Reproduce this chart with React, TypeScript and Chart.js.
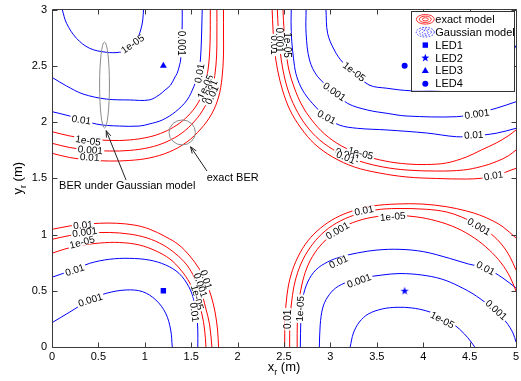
import React, { useEffect, useRef } from "react";
import { Chart, registerables } from "chart.js";

Chart.register(...registerables);

const FONT = '"Liberation Sans", Arial, Helvetica, sans-serif';
const RED = "rgb(255,0,0)";
const BLUE = "rgb(0,0,255)";

const xTickValues = [0, 0.5, 1, 1.5, 2, 2.5, 3, 3.5, 4, 4.5, 5];
const yTickValues = [0, 0.5, 1, 1.5, 2, 2.5, 3];

const ledNames = ["LED1", "LED2", "LED3", "LED4"];
const ledX = [1.2, 3.8, 1.2, 3.8];
const ledY = [0.5, 0.5, 2.5, 2.5];

// Gaussian model (blue) contours
const gTL_1e5 = [[0.11,3],[0.157,2.877],[0.264,2.744],[0.406,2.655],[0.584,2.62],[0.726,2.62],[0.833,2.649],[0.908,2.72],[0.956,2.818],[0.978,2.907],[0.986,3]];
const gTL_1e3 = [[0,2.397],[0.157,2.32],[0.334,2.249],[0.584,2.204],[0.833,2.196],[1.047,2.196],[1.154,2.24],[1.218,2.284],[1.279,2.329],[1.325,2.4],[1.349,2.433],[1.375,2.507],[1.386,2.551],[1.396,2.684],[1.403,2.862],[1.403,3]];
const gTL_1e2 = [[0,2.092],[0.192,2.053],[0.477,1.982],[0.726,1.964],[0.94,1.964],[1.047,1.982],[1.189,2.018],[1.332,2.092],[1.456,2.196],[1.528,2.314],[1.56,2.391],[1.581,2.462],[1.599,2.551],[1.61,2.729],[1.616,2.907],[1.619,3]];
const gBL_1e2 = [[0,0.62],[0.246,0.691],[0.406,0.744],[0.62,0.78],[0.833,0.788],[1.047,0.773],[1.225,0.729],[1.368,0.655],[1.474,0.536],[1.528,0.418],[1.56,0.284],[1.571,0.151],[1.571,0]];
const gBL_1e3 = [[0,0.216],[0.192,0.311],[0.406,0.418],[0.584,0.477],[0.798,0.507],[0.975,0.492],[1.119,0.418],[1.225,0.3],[1.279,0.151],[1.296,0]];
const gTR_1e2 = [[2.578,3],[2.578,2.788],[2.614,2.492],[2.65,2.373],[2.721,2.255],[2.842,2.133],[2.952,2.047],[3.095,1.973],[3.291,1.944],[3.611,1.929],[4.038,1.902],[4.359,1.869],[4.537,1.876],[4.786,1.9],[5,1.944]];
const gTR_1e3 = [[2.738,3],[2.738,2.788],[2.775,2.551],[2.863,2.403],[3.042,2.269],[3.184,2.166],[3.397,2.107],[3.611,2.077],[3.825,2.053],[4.359,2.047],[4.573,2.077],[4.786,2.122],[5,2.18]];
const gTR_1e5 = [[2.952,3],[2.97,2.788],[3.042,2.64],[3.13,2.533],[3.255,2.447],[3.416,2.329],[3.611,2.3],[3.86,2.278],[4.145,2.284],[4.466,2.32],[4.733,2.4],[4.893,2.507],[5,2.68]];
const gBR_1e2 = [[2.676,0],[2.682,0.24],[2.703,0.436],[2.756,0.578],[2.842,0.684],[2.97,0.756],[3.109,0.8],[3.291,0.836],[3.504,0.862],[3.75,0.868],[4.006,0.847],[4.284,0.788],[4.487,0.738],[4.679,0.7],[4.858,0.613],[5,0.524]];
const gBR_1e3 = [[2.881,0],[2.89,0.196],[2.917,0.347],[2.97,0.444],[3.056,0.524],[3.184,0.578],[3.344,0.613],[3.558,0.64],[3.75,0.653],[3.985,0.64],[4.199,0.604],[4.38,0.542],[4.573,0.453],[4.765,0.329],[4.893,0.222],[4.968,0.124],[5,0.044]];
const gBR_1e5 = [[3.213,0],[3.248,0.124],[3.312,0.222],[3.408,0.293],[3.558,0.338],[3.718,0.353],[3.878,0.347],[4.038,0.32],[4.199,0.267],[4.338,0.196],[4.444,0.116],[4.509,0.053],[4.555,0]];

// Exact model (red) contours
const eTL_1e5 = [[0,1.914],[0.192,1.876],[0.406,1.849],[0.62,1.836],[0.833,1.84],[1.047,1.867],[1.207,1.911],[1.346,1.973],[1.464,2.053],[1.56,2.151],[1.624,2.258],[1.667,2.391],[1.693,2.551],[1.704,2.729],[1.706,3]];
const eTL_1e3 = [[0,1.811],[0.192,1.773],[0.406,1.751],[0.62,1.742],[0.833,1.747],[1.047,1.773],[1.229,1.822],[1.4,1.902],[1.538,2.009],[1.645,2.133],[1.715,2.267],[1.755,2.418],[1.774,2.596],[1.777,2.773],[1.777,3]];
const eTL_1e2 = [[0,1.722],[0.192,1.684],[0.406,1.662],[0.62,1.653],[0.833,1.658],[1.047,1.68],[1.261,1.733],[1.453,1.822],[1.603,1.938],[1.72,2.071],[1.795,2.222],[1.832,2.391],[1.848,2.596],[1.848,2.773],[1.848,3]];
const eBL_1e2 = [[0,1.046],[0.192,1.076],[0.331,1.089],[0.513,1.1],[0.694,1.1],[0.887,1.084],[1.047,1.049],[1.225,0.98],[1.368,0.907],[1.485,0.809],[1.581,0.702],[1.656,0.587],[1.715,0.453],[1.757,0.311],[1.784,0.151],[1.795,0]];
const eBL_1e3 = [[0,0.957],[0.192,0.991],[0.406,1.013],[0.62,1.018],[0.833,1.004],[1.026,0.969],[1.197,0.907],[1.335,0.827],[1.453,0.729],[1.538,0.613],[1.608,0.489],[1.656,0.347],[1.699,0.196],[1.723,0]];
const eBL_1e5 = [[0,0.833],[0.139,0.871],[0.299,0.902],[0.513,0.924],[0.726,0.929],[0.94,0.907],[1.122,0.853],[1.271,0.782],[1.389,0.684],[1.485,0.569],[1.56,0.436],[1.613,0.302],[1.645,0.151],[1.659,0]];
const eTR_1e2 = [[2.372,3],[2.382,2.818],[2.398,2.64],[2.431,2.462],[2.484,2.284],[2.564,2.107],[2.682,1.947],[2.831,1.804],[3.024,1.689],[3.259,1.6],[3.526,1.547],[3.825,1.511],[4.145,1.498],[4.466,1.493],[4.626,1.5],[4.786,1.52],[4.893,1.556],[5,1.588]];
const eTR_1e3 = [[2.428,3],[2.439,2.818],[2.457,2.64],[2.489,2.462],[2.543,2.284],[2.623,2.124],[2.735,1.973],[2.885,1.84],[3.077,1.733],[3.312,1.653],[3.568,1.6],[3.825,1.573],[4.145,1.564],[4.431,1.573],[4.626,1.604],[4.786,1.647],[4.915,1.698],[5,1.751]];
const eTR_1e5 = [[2.489,3],[2.5,2.818],[2.521,2.64],[2.553,2.462],[2.612,2.302],[2.692,2.151],[2.799,2.018],[2.938,1.893],[3.12,1.787],[3.344,1.707],[3.59,1.653],[3.825,1.627],[4.038,1.622],[4.252,1.636],[4.466,1.689],[4.626,1.751],[4.786,1.813],[4.915,1.876],[5,1.929]];
const eBR_1e2 = [[2.507,0],[2.511,0.24],[2.532,0.462],[2.575,0.64],[2.65,0.8],[2.756,0.942],[2.895,1.058],[3.056,1.147],[3.237,1.209],[3.451,1.253],[3.718,1.271],[3.985,1.271],[4.252,1.247],[4.466,1.209],[4.608,1.173],[4.754,1.12],[4.861,1.067],[5,0.969]];
const eBR_1e3 = [[2.561,0],[2.564,0.24],[2.585,0.418],[2.618,0.578],[2.682,0.738],[2.778,0.88],[2.906,1.004],[3.066,1.102],[3.259,1.173],[3.483,1.218],[3.718,1.231],[4.038,1.224],[4.252,1.2],[4.412,1.156],[4.591,1.084],[4.733,1.004],[4.85,0.907],[4.936,0.8],[5,0.684]];
const eBR_1e5 = [[2.642,0],[2.644,0.24],[2.66,0.4],[2.692,0.551],[2.746,0.702],[2.831,0.836],[2.949,0.951],[3.098,1.049],[3.291,1.12],[3.504,1.16],[3.718,1.169],[3.932,1.156],[4.145,1.12],[4.359,1.058],[4.551,0.969],[4.712,0.862],[4.84,0.747],[4.936,0.622],[5,0.498]];

const exactContours = [eTL_1e5, eTL_1e3, eTL_1e2, eBL_1e2, eBL_1e3, eBL_1e5, eTR_1e2, eTR_1e3, eTR_1e5, eBR_1e2, eBR_1e3, eBR_1e5];
const gaussContours = [gTL_1e5, gTL_1e3, gTL_1e2, gBL_1e2, gBL_1e3, gTR_1e2, gTR_1e3, gTR_1e5, gBR_1e2, gBR_1e3, gBR_1e5];

// contour labels: text, x, y, rotation (deg)
const contourLabels: [string, number, number, number][] = [
  ["1e-05", 0.869, 2.693, -35],
  ["0.001", 1.392, 2.7, 90],
  ["0.01", 0.317, 2.018, 8],
  ["0.01", 1.589, 2.433, -80],
  ["1e-05", 0.388, 1.834, 8],
  ["0.001", 0.413, 1.751, 5],
  ["0.01", 0.406, 1.686, 3],
  ["1e-05", 1.653, 2.314, -65],
  ["0.001", 1.699, 2.269, -65],
  ["0.01", 1.723, 2.24, -65],
  ["0.01", 2.4, 2.684, 90],
  ["0.001", 2.454, 2.729, 90],
  ["1e-05", 2.535, 2.684, 90],
  ["1e-05", 3.255, 2.447, 38],
  ["0.001", 3.042, 2.269, 35],
  ["0.01", 2.959, 2.042, 28],
  ["0.001", 4.58, 2.071, -8],
  ["0.01", 4.544, 1.884, -3],
  ["1e-05", 3.326, 1.722, 15],
  ["0.001", 3.184, 1.707, 20],
  ["0.01", 3.166, 1.686, 22],
  ["0.01", 4.758, 1.523, -10],
  ["0.01", 0.334, 1.084, -5],
  ["0.001", 0.353, 1.02, -8],
  ["1e-05", 0.324, 0.931, -15],
  ["0.01", 0.246, 0.684, -18],
  ["0.001", 0.413, 0.418, -18],
  ["0.01", 1.66, 0.6, 72],
  ["0.001", 1.6, 0.55, 72],
  ["1e-05", 1.565, 0.44, 75],
  ["0.01", 1.535, 0.31, 82],
  ["0.01", 2.543, 0.246, -90],
  ["1e-05", 2.675, 0.34, -87],
  ["0.01", 3.362, 1.212, -12],
  ["0.001", 3.077, 1.034, -30],
  ["1e-05", 3.672, 1.158, -5],
  ["0.001", 4.601, 1.069, 30],
  ["0.01", 3.088, 0.758, -25],
  ["0.01", 4.672, 0.7, 28],
  ["0.001", 3.309, 0.589, -20],
  ["0.001", 4.786, 0.329, 42],
  ["1e-05", 4.206, 0.24, 27],
];

// annotations (data units)
const gaussEllipse = [0.566, 2.329, 0.053, 0.382];
const exactCircle = [1.403, 1.907, 0.142, 0.111];
const gaussArrow = [0.798, 1.484, 0.584, 1.923];
const exactArrow = [1.67, 1.564, 1.493, 1.78];
const gaussText: [string, number, number] = ["BER under Gaussian model", 0.076, 1.404];
const exactText: [string, number, number] = ["exact BER", 1.667, 1.48];

function starPath(ctx: CanvasRenderingContext2D, cx: number, cy: number, ro: number, ri: number) {
  ctx.beginPath();
  for (let i = 0; i < 10; i++) {
    const r = i % 2 === 0 ? ro : ri;
    const a = -Math.PI / 2 + (i * Math.PI) / 5;
    const px = cx + r * Math.cos(a);
    const py = cy + r * Math.sin(a);
    if (i === 0) ctx.moveTo(px, py);
    else ctx.lineTo(px, py);
  }
  ctx.closePath();
}

function drawMarker(ctx: CanvasRenderingContext2D, kind: number, x: number, y: number) {
  ctx.save();
  ctx.fillStyle = BLUE;
  if (kind === 0) {
    ctx.fillRect(x - 2.7, y - 2.7, 5.4, 5.4);
  } else if (kind === 1) {
    starPath(ctx, x, y, 4.2, 1.7);
    ctx.fill();
  } else if (kind === 2) {
    ctx.beginPath();
    ctx.moveTo(x, y - 4);
    ctx.lineTo(x + 3.5, y + 2);
    ctx.lineTo(x - 3.5, y + 2);
    ctx.closePath();
    ctx.fill();
  } else {
    ctx.beginPath();
    ctx.arc(x, y, 3, 0, Math.PI * 2);
    ctx.fill();
  }
  ctx.restore();
}

function makeStarImage() {
  const c = document.createElement("canvas");
  c.width = 10;
  c.height = 10;
  const g = c.getContext("2d")!;
  g.fillStyle = BLUE;
  starPath(g, 5, 5.3, 4.3, 1.7);
  g.fill();
  return c;
}

function arrow(ctx: CanvasRenderingContext2D, x1: number, y1: number, x2: number, y2: number) {
  ctx.beginPath();
  ctx.moveTo(x1, y1);
  ctx.lineTo(x2, y2);
  const a = Math.atan2(y2 - y1, x2 - x1);
  const L = 7;
  ctx.moveTo(x2 - L * Math.cos(a - 0.35), y2 - L * Math.sin(a - 0.35));
  ctx.lineTo(x2, y2);
  ctx.lineTo(x2 - L * Math.cos(a + 0.35), y2 - L * Math.sin(a + 0.35));
  ctx.stroke();
}

const overlayPlugin = {
  id: "overlay",
  afterDatasetsDraw(chart: any) {
    const ctx: CanvasRenderingContext2D = chart.ctx;
    const xs = chart.scales.x;
    const ys = chart.scales.y;
    const ca = chart.chartArea;
    const X = (v: number) => xs.getPixelForValue(v);
    const Y = (v: number) => ys.getPixelForValue(v);

    // contour labels
    ctx.save();
    ctx.font = `10px ${FONT}`;
    ctx.textAlign = "center";
    ctx.textBaseline = "middle";
    for (const [t, lx, ly, rot] of contourLabels) {
      ctx.save();
      ctx.translate(X(lx), Y(ly));
      ctx.rotate((rot * Math.PI) / 180);
      const w = ctx.measureText(t).width;
      ctx.fillStyle = "#fff";
      ctx.fillRect(-w / 2 - 1.5, -3.5, w + 3, 7);
      ctx.fillStyle = "#000";
      ctx.fillText(t, 0, 0.5);
      ctx.restore();
    }
    ctx.restore();

    // annotations
    ctx.save();
    ctx.strokeStyle = "#8a8a8a";
    ctx.lineWidth = 1;
    ctx.beginPath();
    ctx.ellipse(X(gaussEllipse[0]), Y(gaussEllipse[1]), X(gaussEllipse[2]) - X(0), Y(0) - Y(gaussEllipse[3]), 0, 0, Math.PI * 2);
    ctx.stroke();
    ctx.beginPath();
    ctx.ellipse(X(exactCircle[0]), Y(exactCircle[1]), X(exactCircle[2]) - X(0), Y(0) - Y(exactCircle[3]), 0, 0, Math.PI * 2);
    ctx.stroke();
    ctx.strokeStyle = "#222";
    arrow(ctx, X(gaussArrow[0]), Y(gaussArrow[1]), X(gaussArrow[2]), Y(gaussArrow[3]));
    arrow(ctx, X(exactArrow[0]), Y(exactArrow[1]), X(exactArrow[2]), Y(exactArrow[3]));
    ctx.fillStyle = "#000";
    ctx.font = `11px ${FONT}`;
    ctx.textAlign = "left";
    ctx.textBaseline = "alphabetic";
    ctx.fillText(gaussText[0], X(gaussText[1]), Y(gaussText[2]));
    ctx.fillText(exactText[0], X(exactText[1]), Y(exactText[2]));
    ctx.restore();

    // frame and inward ticks
    ctx.save();
    ctx.strokeStyle = "#3a3a3a";
    ctx.lineWidth = 1;
    const L = Math.round(ca.left) + 0.5;
    const R = Math.round(ca.right) + 0.5;
    const T = ca.top;
    const B = Math.round(ca.bottom) + 0.5;
    ctx.beginPath();
    ctx.moveTo(L, T);
    ctx.lineTo(R, T);
    ctx.lineTo(R, B);
    ctx.lineTo(L, B);
    ctx.closePath();
    ctx.stroke();
    ctx.beginPath();
    for (const v of xTickValues) {
      const px = Math.round(X(v)) + 0.5;
      ctx.moveTo(px, B);
      ctx.lineTo(px, B - 5);
      ctx.moveTo(px, T);
      ctx.lineTo(px, T + 5);
    }
    for (const v of yTickValues) {
      const py = Math.round(Y(v)) + 0.5;
      ctx.moveTo(L, py);
      ctx.lineTo(L + 5, py);
      ctx.moveTo(R, py);
      ctx.lineTo(R - 5, py);
    }
    ctx.stroke();
    ctx.restore();

    // legend
    ctx.save();
    const lx = ca.right - 105;
    const ly = ca.top + 1.5;
    const lw = 103.3;
    const lh = 79.7;
    ctx.fillStyle = "#fff";
    ctx.fillRect(lx, ly, lw, lh);
    ctx.strokeStyle = "#333";
    ctx.lineWidth = 1;
    ctx.strokeRect(Math.round(lx) + 0.5, Math.round(ly) + 0.5, Math.round(lw), Math.round(lh));
    const rows = [8.3, 21.2, 34.1, 47, 59.9, 72.8];
    const ix = lx + 14.3;
    const tx = lx + 24.3;
    ctx.lineWidth = 0.8;
    // exact model icon
    ctx.strokeStyle = RED;
    for (const [rx, ry] of [[9, 4.8], [6, 3.2], [3, 1.6]]) {
      ctx.beginPath();
      ctx.ellipse(ix, ly + rows[0], rx, ry, 0, 0, Math.PI * 2);
      ctx.stroke();
    }
    ctx.strokeStyle = BLUE;
    ctx.setLineDash([1.5, 1.5]);
    for (const [rx, ry] of [[9, 4.8], [6, 3.2], [3, 1.6]]) {
      ctx.beginPath();
      ctx.ellipse(ix, ly + rows[1], rx, ry, 0, 0, Math.PI * 2);
      ctx.stroke();
    }
    ctx.setLineDash([]);
    for (let i = 0; i < 4; i++) drawMarker(ctx, i, ix, ly + rows[i + 2]);
    ctx.fillStyle = "#000";
    ctx.font = `11px ${FONT}`;
    ctx.textAlign = "left";
    ctx.textBaseline = "middle";
    const names = ["exact model", "Gaussian model", ...ledNames];
    names.forEach((n, i) => ctx.fillText(n, tx, ly + rows[i] + 0.5));
    ctx.restore();
  },
  afterDraw(chart: any) {
    const ctx: CanvasRenderingContext2D = chart.ctx;
    const ca = chart.chartArea;
    ctx.save();
    ctx.fillStyle = "#000";
    ctx.textBaseline = "alphabetic";
    ctx.textAlign = "left";
    // x title
    const big = `13px ${FONT}`;
    const small = `9px ${FONT}`;
    ctx.font = big;
    const wx = ctx.measureText("x").width;
    const wm = ctx.measureText(" (m)").width;
    ctx.font = small;
    const wr = ctx.measureText("r").width;
    const total = wx + wr + wm;
    const cx = (ca.left + ca.right) / 2;
    let sx = cx - total / 2;
    const by = 371;
    ctx.font = big;
    ctx.fillText("x", sx, by);
    ctx.font = small;
    ctx.fillText("r", sx + wx, by + 4);
    ctx.font = big;
    ctx.fillText(" (m)", sx + wx + wr, by);
    // y title
    ctx.save();
    ctx.translate(22, (ca.top + ca.bottom) / 2);
    ctx.rotate(-Math.PI / 2);
    let sy = -total / 2;
    ctx.font = big;
    ctx.fillText("y", sy, 0);
    ctx.font = small;
    ctx.fillText("r", sy + wx, 4);
    ctx.font = big;
    ctx.fillText(" (m)", sy + wx + wr, 0);
    ctx.restore();
    ctx.restore();
  },
};

export default function App() {
  const ref = useRef<HTMLCanvasElement | null>(null);
  useEffect(() => {
    if (!ref.current) return;
    const star = makeStarImage();
    const lineSets = [
      ...exactContours.map((d) => ({ d, c: RED })),
      ...gaussContours.map((d) => ({ d, c: BLUE })),
    ];
    const datasets: any[] = lineSets.map(({ d, c }) => ({
      type: "scatter",
      data: d.map(([x, y]) => ({ x, y })),
      showLine: true,
      borderColor: c,
      borderWidth: 1,
      pointRadius: 0,
      pointHoverRadius: 0,
      tension: 0.35,
      fill: false,
    }));
    const styles: any[] = ["rect", star, "triangle", "circle"];
    const radii = [3.8, 5, 4, 3];
    ledNames.forEach((n, i) => {
      datasets.push({
        type: "scatter",
        label: n,
        data: [{ x: ledX[i], y: ledY[i] }],
        pointStyle: styles[i],
        pointRadius: radii[i],
        backgroundColor: BLUE,
        borderColor: BLUE,
        borderWidth: 0,
        showLine: false,
      });
    });
    const chart = new Chart(ref.current, {
      type: "scatter",
      data: { datasets },
      options: {
        animation: false,
        responsive: false,
        events: [],
        layout: { padding: { top: 9.5, right: 1, left: 0, bottom: 0 } },
        plugins: { legend: { display: false }, tooltip: { enabled: false } },
        scales: {
          x: {
            type: "linear",
            min: 0,
            max: 5,
            grid: { display: false, drawTicks: false },
            border: { display: false },
            afterBuildTicks: (s: any) => {
              s.ticks = xTickValues.map((v) => ({ value: v }));
            },
            afterFit: (s: any) => {
              s.height = 34;
              s.paddingLeft = 0;
              s.paddingRight = 0;
            },
            ticks: {
              padding: 3,
              color: "#000",
              font: { family: FONT, size: 11 },
              maxRotation: 0,
              autoSkip: false,
              callback: (v: any) => String(v),
            },
          },
          y: {
            type: "linear",
            min: 0,
            max: 3,
            grid: { display: false, drawTicks: false },
            border: { display: false },
            afterBuildTicks: (s: any) => {
              s.ticks = yTickValues.map((v) => ({ value: v }));
            },
            afterFit: (s: any) => {
              s.width = 52;
              s.paddingTop = 0;
              s.paddingBottom = 0;
            },
            ticks: {
              padding: 5,
              color: "#000",
              font: { family: FONT, size: 11 },
              autoSkip: false,
              callback: (v: any) => String(v),
            },
          },
        },
      },
      plugins: [overlayPlugin],
    });
    return () => chart.destroy();
  }, []);
  return (
    <div style={{ position: "absolute", left: 0, top: 0, width: 521, height: 381, background: "#fff" }}>
      <canvas ref={ref} width={521} height={381} style={{ display: "block" }} />
    </div>
  );
}
